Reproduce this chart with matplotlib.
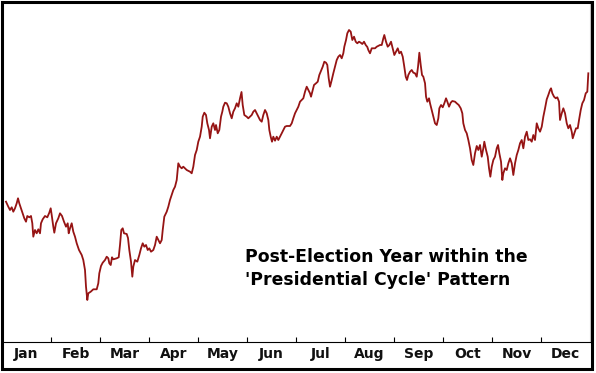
import numpy as np
import matplotlib
matplotlib.use('Agg')
import matplotlib.pyplot as plt
from matplotlib.patches import Rectangle

# average path of the market through a post-election year
# x: trading day (21 per month), y: % change from the first day
trading_day = [
    1.71, 2.70, 3.43, 4.16, 4.84, 5.57, 6.30, 6.86, 7.41, 8.14,
    8.87, 9.56, 10.29, 10.84, 11.70, 12.43, 12.99, 13.41, 14.14, 14.87,
    15.56, 16.29, 16.71, 17.44, 18.43, 19.42, 20.27, 20.87, 21.30, 21.99,
    22.42, 23.14, 24.13, 24.86, 25.72, 26.57, 27.43, 28.16, 28.59, 29.14,
    29.87, 30.56, 31.29, 32.02, 33.00, 34.16, 34.84, 35.57, 36.00, 36.56,
    36.99, 38.02, 39.13, 40.59, 41.27, 41.70, 42.43, 43.16, 44.15, 44.87,
    45.56, 45.99, 46.59, 47.15, 47.70, 49.16, 50.02, 50.57, 51.13, 51.73,
    52.29, 53.45, 54.00, 54.56, 55.29, 55.85, 56.27, 57.00, 57.99, 58.85,
    59.58, 60.30, 60.99, 61.72, 62.45, 63.13, 63.86, 64.85, 65.58, 66.30,
    66.99, 67.72, 68.45, 68.88, 69.56, 70.59, 71.28, 72.00, 72.73, 73.42,
    74.15, 74.88, 75.56, 76.29, 77.02, 77.70, 78.43, 79.16, 80.58, 81.30,
    81.99, 82.72, 83.45, 84.13, 84.86, 85.59, 86.02, 86.71, 87.43, 87.99,
    88.72, 89.15, 89.88, 90.56, 91.29, 91.72, 92.45, 93.13, 93.86, 94.42,
    94.85, 95.58, 96.31, 96.99, 97.72, 98.45, 99.13, 99.86, 100.59, 101.28,
    102.01, 102.65, 103.16, 103.85, 104.88, 105.56, 107.02, 107.71, 108.44, 109.16,
    109.85, 110.58, 111.31, 111.99, 112.72, 113.45, 114.14, 114.57, 115.16, 115.72,
    116.28, 117.01, 117.74, 118.42, 119.15, 119.88, 120.57, 121.29, 122.02, 123.44,
    124.17, 124.85, 125.58, 126.31, 127.00, 127.72, 128.45, 129.14, 129.87, 130.59,
    131.28, 132.01, 132.44, 133.16, 133.72, 134.58, 135.31, 135.99, 136.59, 137.45,
    138.14, 138.87, 139.42, 140.02, 140.58, 141.31, 141.99, 142.72, 143.45, 144.14,
    144.87, 145.59, 146.28, 146.71, 147.44, 147.99, 148.72, 149.45, 150.14, 150.87,
    151.59, 152.28, 153.01, 153.74, 154.42, 155.15, 155.88, 156.57, 157.00, 157.72,
    158.45, 159.87, 160.60, 162.01, 162.74, 163.43, 163.85, 164.58, 165.31, 166.00,
    166.73, 167.45, 168.14, 168.87, 169.60, 170.28, 171.01, 171.74, 172.30, 173.03,
    173.58, 174.14, 174.87, 175.60, 176.28, 177.01, 177.74, 178.30, 178.86, 179.45,
    180.01, 180.57, 181.30, 181.73, 182.28, 183.01, 183.44, 184.17, 184.86, 185.58,
    186.31, 187.00, 187.43, 188.16, 188.88, 189.57, 190.30, 190.86, 191.58, 192.31,
    193.00, 194.16, 194.88, 195.74, 196.60, 197.28, 197.71, 198.44, 199.17, 199.86,
    200.58, 201.31, 201.99, 202.72, 203.46, 204.14, 204.87, 205.60, 206.28, 206.71,
    207.44, 208.17, 208.73, 209.29, 209.89, 210.57, 211.30, 212.03, 212.59, 213.15,
    213.87, 214.43, 214.86, 215.59, 216.31, 217.00, 217.73, 218.46, 219.14, 219.87,
    220.60, 221.29, 222.01, 222.74, 223.43, 224.16, 224.89, 225.57, 226.30, 227.03,
    227.71, 228.44, 229.17, 229.86, 230.59, 231.32, 232.00, 232.73, 233.46, 234.14,
    234.87, 235.30, 235.86, 236.59, 237.32, 238.00, 238.73, 239.15, 239.89, 240.57,
    241.30, 242.03, 242.71, 243.44, 244.17, 244.60, 245.28, 246.01, 246.74, 247.30,
    248.03, 248.71, 249.44, 250.17, 250.85, 251.28,
]
pct_change = [
    0.03, -0.47, -0.80, -0.53, -0.97, -0.63, -0.13, 0.37, -0.13, -0.63,
    -1.13, -1.63, -1.97, -1.40, -1.53, -1.40, -2.13, -3.47, -2.80, -3.13,
    -2.73, -3.13, -2.13, -1.73, -1.40, -1.53, -1.07, -0.63, -1.30, -2.47,
    -3.07, -2.13, -1.63, -1.13, -1.40, -1.97, -2.47, -2.13, -3.13, -2.63,
    -2.13, -2.97, -3.47, -4.13, -4.80, -5.30, -5.80, -6.80, -8.47, -9.80,
    -9.13, -8.97, -8.73, -8.73, -8.13, -7.13, -6.40, -6.07, -5.80, -5.47,
    -5.63, -6.13, -6.30, -5.53, -5.73, -5.63, -5.53, -4.30, -2.80, -2.63,
    -3.13, -3.20, -3.60, -4.80, -5.97, -7.47, -6.47, -5.80, -5.97, -5.30,
    -4.63, -4.13, -4.47, -4.30, -4.80, -4.63, -4.97, -4.80, -4.30, -3.47,
    -3.80, -4.13, -3.80, -2.80, -1.47, -0.97, -0.47, 0.20, 0.70, 1.20,
    1.53, 2.20, 3.87, 3.53, 3.37, 3.53, 3.37, 3.20, 3.03, 2.87,
    3.53, 4.70, 5.20, 6.03, 6.53, 7.53, 8.53, 8.93, 8.70, 7.87,
    7.20, 6.37, 7.53, 7.87, 7.20, 7.70, 6.87, 7.20, 8.53, 9.03,
    9.53, 9.93, 9.87, 9.53, 8.87, 8.37, 9.03, 9.37, 9.87, 9.53,
    10.37, 11.00, 9.70, 8.70, 8.53, 8.37, 8.70, 9.03, 9.20, 8.87,
    8.53, 8.20, 8.03, 8.70, 9.20, 8.87, 8.20, 7.20, 6.53, 6.03,
    6.53, 6.13, 6.53, 6.20, 6.53, 6.87, 7.20, 7.53, 7.60, 7.60,
    7.87, 8.37, 8.87, 9.20, 9.53, 10.03, 10.20, 10.37, 11.03, 11.53,
    11.20, 10.87, 10.53, 11.20, 11.70, 11.87, 12.03, 12.70, 13.03, 13.53,
    14.03, 13.93, 13.70, 12.37, 11.53, 12.20, 12.87, 13.53, 14.20, 14.53,
    14.70, 14.37, 14.87, 15.53, 16.20, 16.87, 17.20, 17.03, 16.20, 16.53,
    16.03, 15.87, 16.03, 15.93, 15.80, 16.03, 15.70, 15.50, 15.20, 14.87,
    15.37, 15.37, 15.53, 15.70, 15.70, 16.37, 16.70, 16.03, 15.53, 15.70,
    16.03, 15.37, 14.70, 15.03, 15.37, 14.87, 15.03, 14.53, 13.70, 12.53,
    12.20, 12.70, 13.03, 13.20, 12.93, 12.87, 12.53, 13.53, 14.93, 13.70,
    12.70, 12.53, 11.87, 10.53, 10.03, 10.37, 9.87, 9.20, 8.53, 7.87,
    7.70, 8.37, 9.37, 9.70, 9.47, 9.87, 10.37, 10.03, 9.53, 9.93,
    10.10, 10.03, 9.87, 9.70, 9.37, 8.87, 7.87, 7.20, 6.87, 6.20,
    5.37, 4.20, 3.70, 4.87, 5.60, 5.20, 5.70, 4.53, 5.37, 6.03,
    5.20, 4.53, 3.37, 2.53, 3.53, 4.20, 4.53, 5.37, 5.70, 4.87,
    4.03, 2.20, 2.87, 3.37, 3.20, 3.87, 4.37, 3.87, 2.70, 3.87,
    4.70, 5.20, 5.87, 6.20, 5.37, 6.53, 7.03, 6.20, 6.27, 6.03,
    6.70, 6.20, 7.87, 7.37, 7.03, 7.53, 8.53, 9.37, 10.27, 10.70,
    11.20, 11.37, 10.87, 10.53, 10.37, 10.47, 10.03, 8.20, 8.87, 9.37,
    8.87, 7.87, 7.37, 7.70, 7.03, 6.37, 6.87, 7.37, 7.37, 8.20,
    9.20, 9.87, 10.20, 10.87, 11.03, 12.87,
]
months = ['Jan', 'Feb', 'Mar', 'Apr', 'May', 'Jun',
          'Jul', 'Aug', 'Sep', 'Oct', 'Nov', 'Dec']
days_per_month = 21

fig = plt.figure(figsize=(5.96, 3.73), dpi=100)
fig.patch.set_facecolor('white')
ax = fig.add_axes([2 / 596, 31 / 373, 588 / 596, 339 / 373])

ax.plot(trading_day, pct_change, color='#961414', lw=1.3)

n = len(months)
ax.set_xlim(0, n * days_per_month)
ax.set_ylim(-14, 19.9)

# month boundaries as ticks, names in between
ax.set_xticks(np.arange(1, n) * days_per_month)
ax.set_xticks((np.arange(n) + 0.5) * days_per_month, minor=True)
ax.set_xticklabels([])
ax.set_xticklabels(months, minor=True, fontsize=10, fontweight='bold',
                   family=['DejaVu Sans'], color='#111111')
ax.tick_params(axis='x', which='major', direction='in', length=3.5, width=0.8, color='black')
ax.tick_params(axis='x', which='minor', length=0, pad=3.5)
ax.set_yticks([])

ax.spines['top'].set_visible(False)
ax.spines['left'].set_visible(False)
ax.spines['bottom'].set_linewidth(0.8)
ax.spines['right'].set_color('#c8c8c8')
ax.spines['right'].set_linewidth(0.8)

title_lines = ["Post-Election Year within the", "'Presidential Cycle' Pattern"]
for i, line in enumerate(title_lines):
    fig.text(245 / 596, (373 - 261.5 - 23.5 * i) / 373, line,
             fontsize=12.4, fontweight='bold', family=['DejaVu Sans'],
             va='baseline', ha='left')

# frame round the whole picture
fig.patches.append(Rectangle((1.5 / 596, 4.5 / 373), 590 / 596, 367 / 373,
                             transform=fig.transFigure, fill=False,
                             edgecolor='black', lw=2.2))

fig.savefig('out.png', dpi=100)
